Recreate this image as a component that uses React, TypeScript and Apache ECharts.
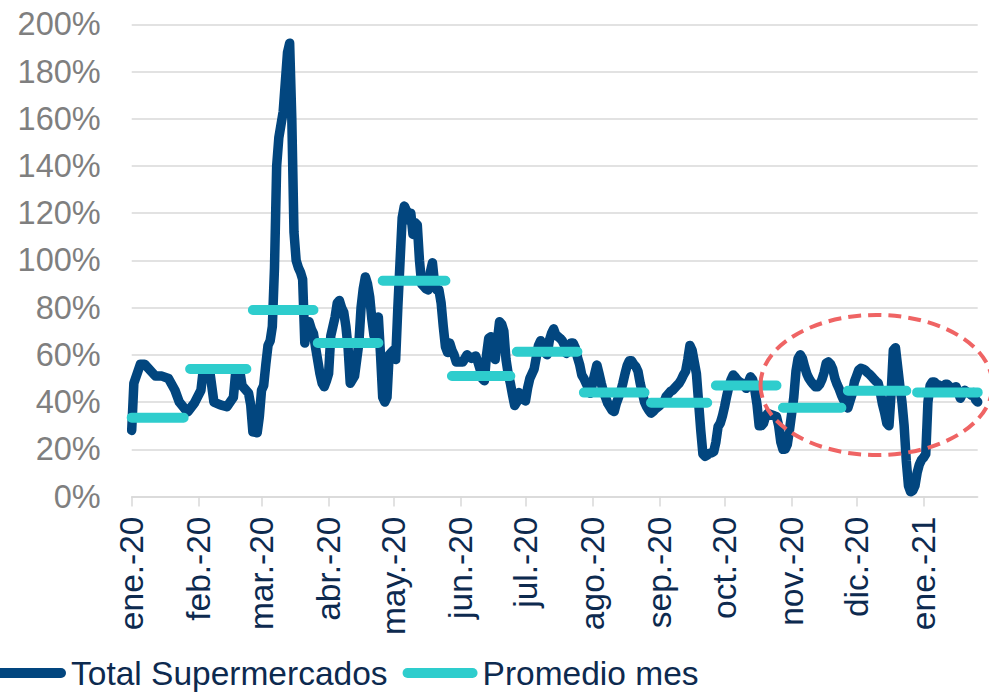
import React, { useEffect, useRef } from "react";
import * as echarts from "echarts";

// Daily categories: 2020-01-01 .. 2021-01-26
const START_UTC = Date.UTC(2020, 0, 1);
const DAY_COUNT = 392;
const categories: string[] = Array.from({ length: DAY_COUNT }, (_, i) =>
  new Date(START_UTC + i * 86400000).toISOString().slice(0, 10)
);
const monthNames = ["ene", "feb", "mar", "abr", "may", "jun", "jul", "ago", "sep", "oct", "nov", "dic"];

// Total Supermercados (%): day offsets and values
const totalDays = [
  0, 1, 4, 6, 11, 14, 17, 20, 22, 25, 26, 29, 32, 33, 36, 38, 41, 44, 47, 48, 50, 51, 54, 55, 56, 58, 59,
  60, 61, 62, 63, 64, 65, 66, 67, 68, 70, 72, 73, 74, 75, 76, 77, 78, 79, 80, 81, 82, 83, 84, 85, 87, 88, 89,
  90, 91, 92, 93, 94, 95, 96, 97, 98, 99, 100, 101, 103, 104, 105, 106, 107, 108, 109, 110, 111, 112, 113, 114,
  115, 116, 117, 118, 119, 120, 121, 122, 123, 124, 125, 126, 127, 128, 129, 130, 131, 132, 133, 134, 135, 136,
  137, 138, 139, 140, 141, 142, 143, 144, 145, 146, 147, 148, 149, 150, 153, 155, 157, 159, 160, 161, 162, 163,
  164, 165, 166, 167, 168, 169, 170, 171, 172, 173, 174, 175, 176, 177, 178, 179, 180, 181, 182, 183, 184, 185,
  186, 187, 188, 189, 190, 191, 192, 193, 194, 195, 196, 198, 199, 200, 201, 202, 203, 204, 205, 206, 207, 208,
  209, 210, 211, 212, 213, 214, 215, 216, 217, 218, 219, 220, 221, 222, 223, 224, 225, 226, 227, 228, 229, 230,
  231, 232, 233, 234, 235, 236, 237, 238, 239, 240, 241, 242, 244, 245, 246, 247, 249, 250, 252, 253, 254, 255,
  256, 257, 258, 259, 260, 261, 262, 263, 264, 265, 266, 267, 268, 269, 270, 271, 272, 273, 274, 275, 276, 277,
  278, 279, 280, 281, 282, 283, 284, 285, 286, 287, 288, 289, 290, 291, 292, 293, 294, 295, 297, 298, 299, 300,
  301, 302, 303, 304, 305, 306, 307, 308, 309, 310, 311, 312, 313, 314, 315, 316, 317, 318, 319, 320, 321, 322,
  323, 324, 325, 326, 327, 328, 329, 330, 331, 332, 333, 334, 335, 336, 337, 338, 339, 340, 341, 342, 343, 344,
  345, 346, 347, 348, 349, 350, 351, 352, 353, 354, 355, 356, 357, 358, 359, 360, 361, 362, 363, 364, 365, 366,
  367, 368, 369, 370, 371, 372, 373, 374, 375, 376, 377, 378, 379, 380, 381, 382, 383, 384, 385, 386, 387, 388,
  389, 390, 391,
];
const totalValues = [
  28, 48, 56, 56, 51, 51, 50, 45, 40, 36.6, 36, 39.6, 45, 53, 53.6, 40, 38.8, 38, 42, 52, 53, 47, 43.8, 38.8, 27.4, 27, 33.8,
  45, 47, 56, 64, 66, 72, 97, 140, 152, 163, 188, 192, 160, 112, 100, 97, 95, 92, 65, 73, 74, 71, 69, 63, 52, 48, 46.5,
  49, 52, 68, 72, 76, 82, 83, 80, 78, 72, 63, 48, 51, 58, 65, 80, 88, 93, 90, 84.6, 75, 68, 74, 76,
  60, 42, 40, 42, 60, 61, 62, 58, 80, 99, 118, 123, 121, 117, 120, 111, 116, 115, 100, 90, 89, 88,
  87.5, 95, 99, 90, 87.5, 87.5, 82, 72, 63.4, 61, 65, 62, 60, 57, 57, 60, 58.5, 59.5, 57, 54, 50, 49,
  60, 67, 67.7, 62, 58, 66, 74, 73, 70, 58, 52, 48, 43, 38.5, 40, 44, 43, 41, 40.5, 46, 50, 52,
  54, 59, 64, 66, 64.5, 61, 60, 66, 69, 71, 68.5, 67, 66, 64, 60.6, 63, 65, 65, 63, 59, 56, 51.5,
  50, 48, 46, 43.7, 48, 52, 55.7, 52, 48, 44.5, 42, 39.5, 38, 36.5, 36, 39.5, 42, 44.5, 48, 52, 55.5, 57.5,
  57.5, 56, 55, 53, 48, 44, 40, 38, 36.5, 35.3, 36, 37, 38.5, 39.5, 40, 42.3, 44.5, 45, 47, 48, 49.5, 51.5,
  53, 58, 64, 62, 57, 52, 40, 28, 18, 17, 17.5, 18.3, 18.5, 19, 23, 29.5, 31, 34, 38, 42.5, 46.5, 49.5,
  51.5, 50.5, 49.3, 48.5, 48, 47, 45.8, 48.5, 50.7, 49.5, 45, 39, 30, 30, 31, 34, 35.2, 34.8, 34.2, 33.8, 30, 23,
  20, 20, 22, 28, 35, 42, 53, 58.5, 60, 58.5, 55, 52, 50, 48.6, 47.5, 46.5, 46.5, 47.5, 49.5, 52.5, 56.5, 57,
  56, 54, 50, 47.5, 45.5, 43, 41, 39.5, 37.5, 40.5, 43.5, 48.5, 51, 53.5, 54.3, 54, 53.5, 52.5, 51.8, 50.8, 49.8, 48.8,
  48, 44, 39, 35.5, 31, 30, 44, 62, 63, 55, 47, 40, 30, 15, 4.5, 2, 2.5, 4.5, 10, 13.5, 15.5, 16.5,
  18, 40, 47, 48.5, 48.5, 47.5, 47.2, 46.5, 46.5, 47.5, 47.5, 46.5, 45.8, 46.2, 46.5, 44, 41.6, 43.5, 45, 44.3, 43.7, 43,
  44, 41, 40,
];

// Promedio mes (%): monthly averages and the day span of each segment
const promedioValues = [33.4, 54, 79, 65, 91.4, 51, 61.3, 44, 39.7, 47, 37.6, 44.8, 44.1];
const promedioStart = [0, 27, 56, 86, 116, 148, 178, 209, 240, 270, 301, 331, 363];
const promedioEnd = [24, 53, 84, 114, 145, 175, 206, 237, 266, 298, 328, 358, 391];

const yTicks = { min: 0, max: 200, interval: 20 };

const DARK = "#02467f";
const TEAL = "#2ecdcd";
const FONT = "'Liberation Sans', Arial, Helvetica, sans-serif";
const pill = "path://M5 0H70A5 5 0 0 1 70 10H5A5 5 0 0 1 5 0Z";

export default function App() {
  const ref = useRef<HTMLDivElement>(null);

  useEffect(() => {
    if (!ref.current) return;
    const chart = echarts.init(ref.current, undefined, { renderer: "svg" });

    const totalData = totalDays.map((d, i) => [categories[d], totalValues[i]]);
    const promData: any[] = [];
    promedioValues.forEach((v, i) => {
      promData.push([categories[promedioStart[i]], v]);
      promData.push([categories[promedioEnd[i]], v]);
      if (i < promedioValues.length - 1) promData.push([categories[promedioEnd[i] + 1], "-"]);
    });

    const isMonthStart = (idx: number) => categories[idx] && categories[idx].slice(8) === "01";

    chart.setOption({
      animation: false,
      backgroundColor: "#ffffff",
      grid: {
        left: 131.7,
        right: 11.3,
        top: 24.3,
        bottom: 196.5,
        containLabel: false,
        outerBoundsMode: "none",
      },
      xAxis: {
        type: "category",
        data: categories,
        boundaryGap: false,
        axisLine: { show: true, lineStyle: { color: "#d9d9d9", width: 1.5 } },
        axisTick: {
          show: true,
          interval: (idx: number) => isMonthStart(idx),
          length: 10,
          lineStyle: { color: "#d9d9d9", width: 1.5 },
        },
        axisLabel: {
          interval: (idx: number) => isMonthStart(idx),
          rotate: 90,
          margin: 20,
          color: "#0d2a4f",
          fontSize: 33.5,
          fontFamily: FONT,
          formatter: (val: string) => {
            const m = parseInt(val.slice(5, 7), 10) - 1;
            return `${monthNames[m]}.-${val.slice(2, 4)}`;
          },
        },
        splitLine: { show: false },
      },
      yAxis: {
        type: "value",
        min: yTicks.min,
        max: yTicks.max,
        interval: yTicks.interval,
        axisLine: { show: false },
        axisTick: { show: false },
        axisLabel: {
          color: "#7f7f7f",
          fontSize: 32.5,
          fontFamily: FONT,
          margin: 31,
          formatter: (v: number) => `${v}%`,
        },
        splitLine: { lineStyle: { color: "#d9d9d9", width: 1.5 } },
      },
      legend: {
        left: -9,
        top: 656,
        padding: 0,
        itemWidth: 75,
        itemHeight: 10,
        itemGap: 15,
        textStyle: { color: "#0d2a4f", fontSize: 33.5, fontFamily: FONT },
        data: [
          { name: "Total Supermercados", icon: pill },
          { name: "Promedio mes", icon: pill },
        ],
      },
      series: [
        {
          name: "Total Supermercados",
          type: "line",
          data: totalData,
          symbol: "none",
          showSymbol: false,
          color: DARK,
          itemStyle: { color: DARK },
          lineStyle: { color: DARK, width: 9.5, cap: "round", join: "round" },
          z: 2,
        },
        {
          name: "Promedio mes",
          type: "line",
          data: promData,
          symbol: "none",
          showSymbol: false,
          connectNulls: false,
          color: TEAL,
          itemStyle: { color: TEAL },
          lineStyle: { color: TEAL, width: 10, cap: "round", join: "round" },
          z: 3,
        },
      ],
      graphic: [
        {
          type: "ellipse",
          shape: { cx: 876.5, cy: 385, rx: 116, ry: 70 },
          style: { fill: "none", stroke: "#ef6464", lineWidth: 4, lineDash: [13, 7] },
          z: 10,
        },
      ],
    });

    return () => chart.dispose();
  }, []);

  return (
    <div
      ref={ref}
      style={{ position: "fixed", left: 0, top: 0, width: 989, height: 693, background: "#fff" }}
    />
  );
}
